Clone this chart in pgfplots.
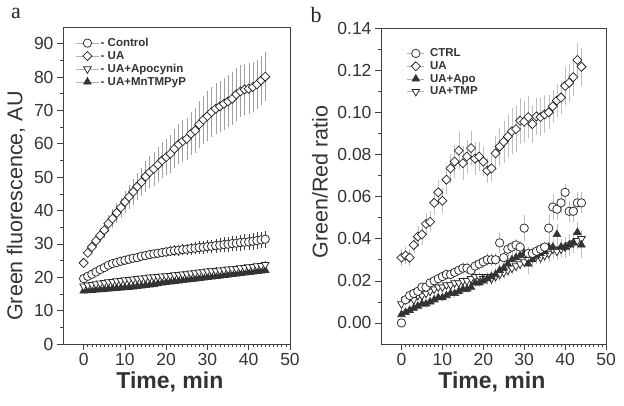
\documentclass[border=0pt]{standalone}
\usepackage{fontspec}
\setmainfont{Liberation Sans}
\newfontfamily\seriffont{Liberation Serif}
\usepackage{pgfplots}
\usepackage{pgfplotstable}
\pgfplotsset{compat=1.18}

% ---------- panel a data ----------
\pgfplotstableread{
x y e
0 24.3 1.0
1 27.3 1.2
2 29.1 1.5
3 30.9 1.8
4 32.5 2.0
5 34.1 2.3
6 36.1 2.5
7 37.6 2.8
8 39.3 3.0
9 40.9 3.0
10 42.6 3.2
11 44.1 3.5
12 45.6 3.8
13 47.2 4.0
14 48.5 4.2
15 50.2 4.5
16 51.5 4.7
17 52.5 5.0
18 53.7 5.2
19 55.0 5.4
20 56.0 5.5
21 57.0 5.7
22 58.5 5.9
23 59.8 6.0
24 60.8 6.2
25 61.5 6.3
26 63.0 6.5
27 64.0 6.7
28 65.8 7.0
29 67.2 7.2
30 68.3 7.4
31 69.5 7.5
32 70.5 7.6
33 71.2 7.7
34 72.0 7.8
35 72.7 7.8
36 73.5 7.9
37 74.8 7.9
38 75.7 7.8
39 76.3 7.7
40 76.5 7.6
41 77.0 7.5
42 77.8 7.4
43 79.0 7.3
44 80.1 7.3
}\uaA
\pgfplotstableread{
x y e
0 19.6 0.5
1 20.3 0.5
2 20.9 0.6
3 21.6 0.6
4 22.3 0.7
5 22.9 0.7
6 23.6 0.8
7 24.1 0.8
8 24.4 0.9
9 24.8 0.9
10 25.1 1.0
11 25.4 1.0
12 25.7 1.1
13 25.9 1.1
14 26.3 1.2
15 26.5 1.2
16 26.8 1.3
17 27.0 1.3
18 27.2 1.4
19 27.4 1.4
20 27.6 1.5
21 27.8 1.5
22 28.0 1.6
23 28.1 1.6
24 28.3 1.7
25 28.4 1.7
26 28.6 1.8
27 28.7 1.8
28 28.9 1.9
29 29.0 1.9
30 29.2 2.0
31 29.3 2.0
32 29.5 2.1
33 29.6 2.1
34 29.8 2.2
35 29.9 2.2
36 30.1 2.3
37 30.2 2.3
38 30.4 2.4
39 30.5 2.4
40 30.6 2.5
41 30.8 2.5
42 31.0 2.5
43 31.2 2.5
44 31.4 2.5
}\ctrlA
\pgfplotstableread{
x y e
0 17.3 0.4
1 17.6 0.4
2 17.8 0.4
3 18.0 0.4
4 18.2 0.5
5 18.4 0.5
6 18.6 0.5
7 18.7 0.5
8 18.9 0.5
9 19.0 0.6
10 19.2 0.6
11 19.3 0.6
12 19.4 0.6
13 19.6 0.6
14 19.7 0.7
15 19.8 0.7
16 20.0 0.7
17 20.1 0.7
18 20.2 0.7
19 20.3 0.8
20 20.4 0.8
21 20.5 0.8
22 20.7 0.8
23 20.8 0.8
24 20.9 0.9
25 21.0 0.9
26 21.2 0.9
27 21.3 0.9
28 21.5 0.9
29 21.6 1.0
30 21.8 1.0
31 21.9 1.0
32 22.0 1.0
33 22.1 1.0
34 22.2 1.0
35 22.4 1.0
36 22.5 1.0
37 22.6 1.0
38 22.8 1.0
39 22.9 1.0
40 23.1 1.0
41 23.2 1.0
42 23.4 1.0
43 23.5 1.0
44 23.8 1.0
}\apoA
\pgfplotstableread{
x y e
0 15.9 0.4
1 16.0 0.4
2 16.1 0.4
3 16.2 0.4
4 16.3 0.4
5 16.4 0.5
6 16.5 0.5
7 16.6 0.5
8 16.7 0.5
9 16.8 0.5
10 16.9 0.5
11 17.0 0.5
12 17.1 0.6
13 17.3 0.6
14 17.4 0.6
15 17.6 0.6
16 17.7 0.6
17 17.9 0.6
18 18.1 0.6
19 18.3 0.7
20 18.5 0.7
21 18.6 0.7
22 18.8 0.7
23 18.9 0.7
24 19.1 0.7
25 19.2 0.7
26 19.4 0.8
27 19.5 0.8
28 19.7 0.8
29 19.8 0.8
30 20.0 0.8
31 20.1 0.8
32 20.3 0.8
33 20.4 0.9
34 20.6 0.9
35 20.7 0.9
36 20.9 0.9
37 21.0 0.9
38 21.2 0.9
39 21.3 0.9
40 21.5 0.9
41 21.6 0.9
42 21.8 0.9
43 21.9 0.9
44 22.1 0.9
}\mnA

% ---------- panel b data ----------
\pgfplotstableread{
x y e
0 0.0310 0.004
1 0.0320 0.004
2 0.0310 0.004
3 0.0370 0.004
4 0.0410 0.005
5 0.0420 0.005
6 0.0470 0.005
7 0.0480 0.005
8 0.0570 0.006
9 0.0620 0.006
10 0.0580 0.006
11 0.0680 0.007
12 0.0734 0.007
13 0.0766 0.008
14 0.0818 0.009
15 0.0758 0.008
16 0.0790 0.008
17 0.0830 0.008
18 0.0780 0.008
19 0.0790 0.007
20 0.0766 0.007
21 0.0723 0.006
22 0.0734 0.006
23 0.0805 0.008
24 0.0837 0.009
25 0.0860 0.010
26 0.0885 0.010
27 0.0910 0.011
28 0.0920 0.011
29 0.0960 0.011
30 0.0955 0.010
31 0.0977 0.010
32 0.0944 0.009
33 0.0980 0.009
34 0.0977 0.009
35 0.0990 0.009
36 0.1000 0.008
37 0.1028 0.008
38 0.1056 0.008
39 0.1070 0.008
40 0.1125 0.009
41 0.1140 0.009
42 0.1167 0.009
43 0.1248 0.008
44 0.1216 0.009
}\uaB
\pgfplotstableread{
x y e
0 0.000 0.001
1 0.011 0.002
2 0.013 0.002
3 0.014 0.002
4 0.015 0.002
5 0.017 0.002
6 0.017 0.002
7 0.019 0.002
8 0.020 0.002
9 0.021 0.002
10 0.022 0.002
11 0.023 0.002
12 0.023 0.002
13 0.024 0.002
14 0.025 0.002
15 0.026 0.003
16 0.026 0.003
17 0.025 0.003
18 0.027 0.003
19 0.028 0.003
20 0.029 0.003
21 0.030 0.003
22 0.030 0.003
23 0.030 0.003
24 0.038 0.005
25 0.031 0.003
26 0.035 0.003
27 0.036 0.003
28 0.037 0.003
29 0.036 0.003
30 0.045 0.006
31 0.033 0.003
32 0.033 0.003
33 0.034 0.003
34 0.035 0.003
35 0.036 0.003
36 0.045 0.006
37 0.055 0.006
38 0.054 0.005
39 0.057 0.005
40 0.062 0.004
41 0.053 0.005
42 0.053 0.005
43 0.057 0.005
44 0.057 0.005
}\ctrlB
\pgfplotstableread{
x y e
0 0.004 0.001
1 0.005 0.001
2 0.006 0.001
3 0.007 0.001
4 0.008 0.001
5 0.009 0.002
6 0.009 0.002
7 0.010 0.002
8 0.011 0.002
9 0.012 0.002
10 0.012 0.002
11 0.013 0.002
12 0.014 0.002
13 0.014 0.002
14 0.015 0.002
15 0.016 0.002
16 0.016 0.002
17 0.017 0.002
18 0.019 0.002
19 0.019 0.002
20 0.020 0.002
21 0.021 0.003
22 0.022 0.003
23 0.023 0.003
24 0.025 0.003
25 0.026 0.003
26 0.028 0.003
27 0.030 0.003
28 0.031 0.003
29 0.032 0.003
30 0.033 0.003
31 0.028 0.005
32 0.030 0.004
33 0.032 0.004
34 0.033 0.004
35 0.034 0.004
36 0.036 0.004
37 0.036 0.004
38 0.042 0.005
39 0.036 0.004
40 0.036 0.005
41 0.037 0.005
42 0.038 0.005
43 0.043 0.005
44 0.037 0.006
}\apoB
\pgfplotstableread{
x y e
0 0.009 0.002
1 0.011 0.002
2 0.012 0.002
3 0.011 0.002
4 0.013 0.002
5 0.013 0.002
6 0.014 0.002
7 0.015 0.002
8 0.016 0.002
9 0.017 0.002
10 0.017 0.002
11 0.018 0.002
12 0.018 0.002
13 0.019 0.002
14 0.019 0.002
15 0.020 0.002
16 0.020 0.002
17 0.021 0.002
18 0.022 0.002
19 0.022 0.002
20 0.021 0.002
21 0.022 0.002
22 0.021 0.003
23 0.022 0.003
24 0.023 0.003
25 0.024 0.003
26 0.025 0.003
27 0.026 0.003
28 0.027 0.003
29 0.028 0.003
30 0.029 0.003
31 0.030 0.003
32 0.031 0.003
33 0.032 0.003
34 0.031 0.003
35 0.032 0.003
36 0.033 0.004
37 0.035 0.004
38 0.034 0.004
39 0.035 0.004
40 0.036 0.004
41 0.037 0.004
42 0.038 0.004
43 0.039 0.004
44 0.040 0.004
}\tmpB

\pgfplotsset{
  panel/.style={
    scale only axis,
    axis line style={black!75, line width=0.8pt},
    tick align=outside, tick pos=left,
    major tick length=6pt, minor tick length=3pt,
    tick style={black!75, line width=0.6pt},
    tick label style={font=\fontsize{17.5}{17.5}\selectfont, text=black!80},
    /pgf/number format/assume math mode=true,
    label style={text=black!80},
    xlabel style={font=\fontsize{23}{23}\selectfont\bfseries},
    ylabel style={font=\fontsize{21.5}{21.5}\selectfont},
    xmin=-5, xmax=50, xtick={0,10,20,30,40,50}, minor x tick num=9,
    legend style={draw=none, fill=none, font=\fontsize{11.5}{13}\selectfont\bfseries,
      text=black!80, row sep=0.3pt, inner sep=0pt, nodes={inner sep=1.5pt}},
    legend cell align=left,
    reverse legend,
  },
  errs/.style={error bars/.cd, y dir=both, y explicit, error mark=none,
    error bar style={line width=0.4pt, #1}},
  mcirc/.style={only marks, mark=*, mark size=4.2pt,
    mark options={fill=white, draw=black!85, line width=0.75pt}},
  mdiam/.style={only marks, mark=square*, mark size=3.2pt,
    mark options={rotate=45, fill=white, draw=black!85, line width=0.75pt}},
  mtdown/.style={only marks, mark=triangle*, mark size=4.4pt,
    mark options={rotate=180, fill=white, draw=black!85, line width=0.75pt}},
  mtup/.style={only marks, mark=triangle*, mark size=4.4pt,
    mark options={fill=black!80, draw=black!80, line width=0.6pt}},
  legA/.style={legend image code/.code={
    \draw[gray!60, line width=0.5pt] (0pt,0pt) -- (23pt,0pt);
    \draw plot coordinates {(11.5pt,0pt)};}},
  legB/.style={legend image code/.code={
    \draw[gray!60, line width=0.5pt] (0pt,0pt) -- (17pt,0pt);
    \draw plot coordinates {(8.5pt,0pt)};}},
}

\begin{document}
\begin{tikzpicture}
\path[use as bounding box] (0pt,0pt) rectangle (624pt,405pt);

\node[font=\seriffont\fontsize{22}{22}\selectfont, text=black!85] at (16pt,392pt) {a};
\node[font=\seriffont\fontsize{22}{22}\selectfont, text=black!85] at (316pt,390pt) {b};

% ---------------- panel a ----------------
\begin{axis}[panel, at={(63pt,61pt)}, anchor=south west,
  width=227pt, height=317pt,
  ymin=0, ymax=95, ytick={0,10,20,30,40,50,60,70,80,90}, minor y tick num=1,
  xlabel={Time, min}, ylabel={Green fluorescence, AU},
  xlabel style={at={(rel axis cs:0.471,-0.12)}, anchor=center},
  ylabel style={at={(rel axis cs:-0.207,0.435)}, anchor=center},
  legend style={at={(rel axis cs:0.055,0.97)}, anchor=north west},
  legA,
]
\addplot[mtup, errs={black!70}] table[x=x, y=y, y error=e] {\mnA};
\addlegendentry{- UA+MnTMPyP}
\addplot[mtdown, errs={black!70}] table[x=x, y=y, y error=e] {\apoA};
\addlegendentry{- UA+Apocynin}
\addplot[mdiam, errs={gray!75}] table[x=x, y=y, y error=e] {\uaA};
\addlegendentry{- UA}
\addplot[mcirc, errs={black!75}] table[x=x, y=y, y error=e] {\ctrlA};
\addlegendentry{- Control}
\end{axis}

% ---------------- panel b ----------------
\begin{axis}[panel, at={(381pt,61pt)}, anchor=south west,
  width=225pt, height=316pt,
  ymin=-0.01, ymax=0.14, ytick={0,0.02,0.04,0.06,0.08,0.10,0.12,0.14}, minor y tick num=1,
  yticklabel style={/pgf/number format/.cd, fixed, fixed zerofill, precision=2},
  scaled y ticks=false,
  xlabel={Time, min}, ylabel={Green/Red ratio},
  xlabel style={at={(rel axis cs:0.493,-0.12)}, anchor=center},
  ylabel style={at={(rel axis cs:-0.271,0.513)}, anchor=center},
  legend style={at={(rel axis cs:0.115,0.94)}, anchor=north west},
  legB,
]
\addplot[mtdown, errs={gray!50}] table[x=x, y=y, y error=e] {\tmpB};
\addlegendentry{\hspace{4pt}UA+TMP}
\addplot[mtup, errs={gray!50}] table[x=x, y=y, y error=e] {\apoB};
\addlegendentry{\hspace{4pt}UA+Apo}
\addplot[mdiam, errs={gray!50}] table[x=x, y=y, y error=e] {\uaB};
\addlegendentry{\hspace{4pt}UA}
\addplot[mcirc, errs={gray!50}] table[x=x, y=y, y error=e] {\ctrlB};
\addlegendentry{\hspace{4pt}CTRL}
\end{axis}
\end{tikzpicture}
\end{document}
